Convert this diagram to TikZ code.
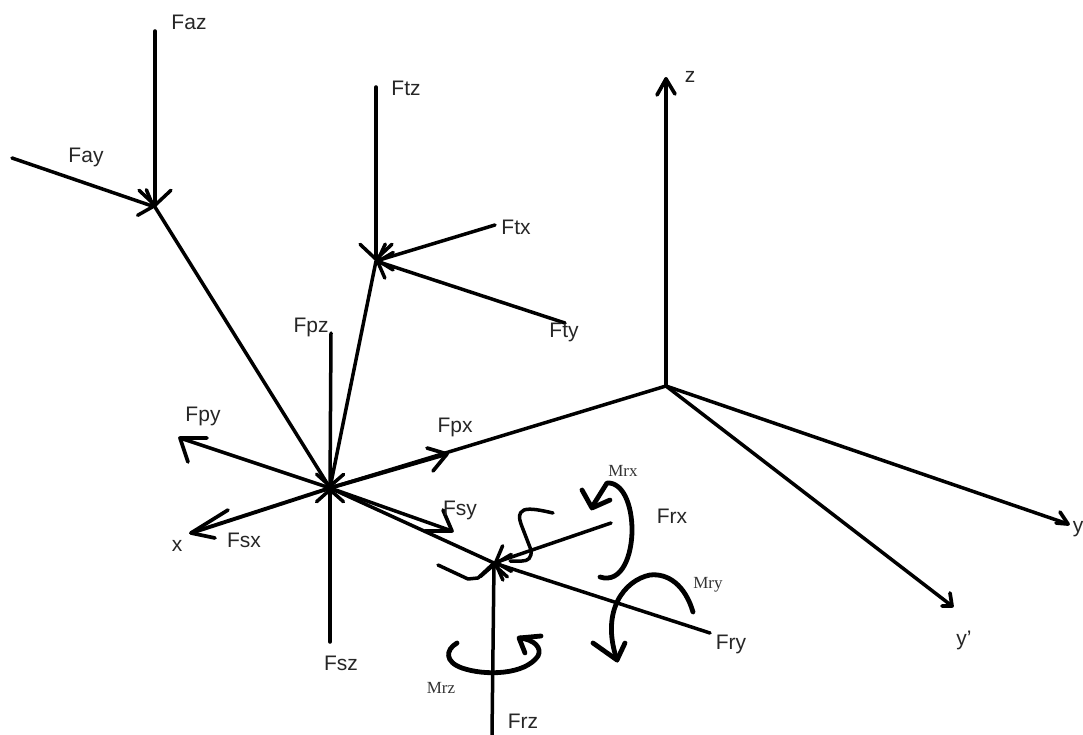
\documentclass[tikz,border=0pt]{standalone}
\usepackage{fontspec}
\setmainfont{Liberation Sans}
\newfontfamily\serifmom{Liberation Serif}
\usetikzlibrary{arrows.meta}
\tikzset{
  force/.style={line width=3.5pt,line cap=round,line join=round,black},
  barbed/.style={force,-{Straight Barb[round,length=15pt,width=32pt,line width=3.5pt]}},
  shortbarb/.style={force,-{Straight Barb[round,length=12pt,width=27pt,line width=3.5pt]}},
  thickbarb/.style={line width=3.7pt,line cap=round,line join=round,black},
  moment/.style={line width=4.8pt,line cap=round,line join=round,black},
  flab/.style={font=\fontsize{21}{21}\selectfont,text=black!85,inner sep=0pt},
  mlab/.style={font=\serifmom\fontsize{17}{17}\selectfont,text=black!80,inner sep=0pt}
}
\begin{document}
\begin{tikzpicture}[x=1pt,y=-1pt]
\useasboundingbox (0,0) rectangle (1083,735);
% key points
\coordinate (O) at (330,488);
\coordinate (C) at (666,386);
\coordinate (A) at (155,207);
\coordinate (T) at (376,261);
\coordinate (R) at (494,563);
\coordinate (zEnd) at (666,79);
\coordinate (yEnd) at (1068,524);
\coordinate (ypEnd) at (952,606);
\coordinate (azEnd) at (155,31);
\coordinate (ayEnd) at (12,158);
\coordinate (tzEnd) at (376,87);
\coordinate (txEnd) at (495,225);
\coordinate (tyEnd) at (565,323);
\coordinate (pzEnd) at (331,333);
\coordinate (szEnd) at (330,642);
\coordinate (pyEnd) at (180,438);
\coordinate (pxEnd) at (447,454);
\coordinate (xEnd) at (191,533);
\coordinate (syEnd) at (452,531);
\coordinate (ryEnd) at (710,633);
\coordinate (rxEnd) at (611,523);
\coordinate (rzEnd) at (492,735);
% axes
\draw[force] (C) -- (zEnd);
\draw[thickbarb] (657,95) -- (zEnd) -- (675,94);
\draw[force] (C) -- (yEnd);
\draw[thickbarb] (1060,512) -- (yEnd) -- (1056,523);
\draw[force] (C) -- (ypEnd);
\draw[thickbarb] (950,593) -- (ypEnd) -- (942,606);
\draw[force] (C) -- (O);
% forces at A and T
\draw[barbed] (azEnd) -- (A);
\draw[shortbarb] (ayEnd) -- (A);
\draw[force] (A) -- (O);
\draw[barbed] (tzEnd) -- (T);
\draw[shortbarb] (txEnd) -- (T);
\draw[shortbarb] (tyEnd) -- (T);
\draw[force] (T) -- (O);
% forces at O
\draw[shortbarb] (pzEnd) -- (O);
\draw[shortbarb] (szEnd) -- (O);
\draw[force,line width=3.9pt] (O) -- (pxEnd);
\draw[thickbarb] (427,448) -- (pxEnd) -- (433,471);
\draw[force] (O) -- (pyEnd);
\draw[thickbarb] (207,438) -- (pyEnd) -- (188,462);
\draw[force,line width=3.9pt] (O) -- (xEnd);
\draw[thickbarb] (228,510) -- (xEnd) -- (215,538);
\draw[force] (O) -- (syEnd);
\draw[thickbarb] (443,510) -- (syEnd) -- (425,531);
\draw[force] (O) -- (R);
% forces at R
\draw[shortbarb] (rzEnd) -- (R);
\draw[shortbarb] (ryEnd) -- (R);
\draw[shortbarb] (rxEnd) -- (R);
% hooks at R
\draw[force] (438,565) -- (468,579) -- (478,578) -- (R);
\draw[force] (553,513) .. controls (540,510) and (530,508) .. (524,510)
  .. controls (518,513) and (519,518) .. (521,524) -- (531,550)
  .. controls (532,558) and (528,561) .. (522,561) -- (510,561);
% moments
\draw[moment] (600,577) .. controls (622,584) and (632,555) .. (632,530)
  .. controls (632,505) and (623,482) .. (607,483) -- (592,507);
\draw[moment] (582,490) -- (592,508) -- (610,500);
\draw[moment] (693,612) .. controls (685,585) and (668,573) .. (650,575)
  .. controls (625,580) and (600,610) .. (617,660);
\draw[moment] (593,643) -- (617,660) -- (625,643);
\draw[moment] (457,643) .. controls (445,650) and (445,662) .. (462,668)
  .. controls (485,676) and (525,675) .. (538,656)
  .. controls (542,648) and (535,640) .. (520,638);
\draw[moment] (541,636) -- (519,638) -- (525,653);
% labels
\node[flab] (lFaz) at (189,22) {Faz};
\node[flab] (lFtz) at (406,88) {Ftz};
\node[flab] (lFay) at (86,157) {Fay};
\node[flab] (lFtx) at (516,227) {Ftx};
\node[flab] (lFty) at (564,332) {Fty};
\node[flab] (lFpz) at (311,327) {Fpz};
\node[flab] (lFpy) at (203,416) {Fpy};
\node[flab] (lFpx) at (455,427) {Fpx};
\node[flab] (lFsy) at (460,510) {Fsy};
\node[flab] (lFsx) at (244,540) {Fsx};
\node[flab] (lx) at (177,546) {x};
\node[flab] (lFrx) at (672,516) {Frx};
\node[flab] (lFry) at (731,644) {Fry};
\node[flab] (lFsz) at (341,663) {Fsz};
\node[flab] (lFrz) at (523,721) {Frz};
\node[flab] (lz) at (690,77) {z};
\node[flab] (ly) at (1078,529) {y};
\node[flab] (lyp) at (964,640) {y'};
\node[mlab] (lMrx) at (623,471) {Mrx};
\node[mlab] (lMry) at (708,585) {Mry};
\node[mlab] (lMrz) at (441,688) {Mrz};
\end{tikzpicture}
\end{document}
